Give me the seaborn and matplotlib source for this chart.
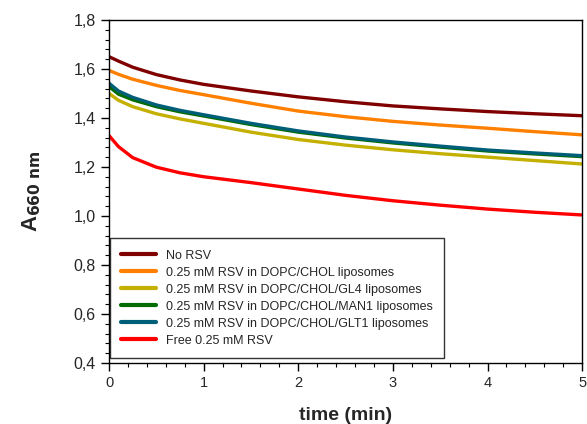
import pandas as pd
import matplotlib.pyplot as plt
import seaborn as sns
from matplotlib.ticker import MultipleLocator, FuncFormatter

times = [0, 0.1, 0.25, 0.5, 0.75, 1, 1.5, 2, 2.5, 3, 3.5, 4, 4.5, 5]

no_rsv = [1.650, 1.632, 1.607, 1.577, 1.555, 1.537, 1.510, 1.486, 1.466, 1.449, 1.437, 1.426, 1.417, 1.409]
chol = [1.594, 1.578, 1.558, 1.533, 1.512, 1.495, 1.460, 1.428, 1.405, 1.386, 1.371, 1.358, 1.344, 1.331]
gl4 = [1.500, 1.472, 1.446, 1.417, 1.396, 1.378, 1.342, 1.312, 1.289, 1.270, 1.254, 1.240, 1.226, 1.212]
man1 = [1.528, 1.497, 1.474, 1.446, 1.425, 1.408, 1.373, 1.342, 1.318, 1.298, 1.281, 1.265, 1.253, 1.242]
glt1 = [1.542, 1.510, 1.484, 1.453, 1.431, 1.413, 1.378, 1.347, 1.322, 1.302, 1.285, 1.269, 1.257, 1.246]
free_rsv = [1.328, 1.283, 1.238, 1.199, 1.176, 1.160, 1.136, 1.110, 1.084, 1.062, 1.044, 1.028, 1.015, 1.004]

labels = [
    "No RSV",
    "0.25 mM RSV in DOPC/CHOL liposomes",
    "0.25 mM RSV in DOPC/CHOL/GL4 liposomes",
    "0.25 mM RSV in DOPC/CHOL/MAN1 liposomes",
    "0.25 mM RSV in DOPC/CHOL/GLT1 liposomes",
    "Free 0.25 mM RSV",
]
colors = ["#800000", "#ff8000", "#c4b000", "#006c00", "#005f78", "#ff0000"]
series = [no_rsv, chol, gl4, man1, glt1, free_rsv]

rows = []
for lab, vals in zip(labels, series):
    for t, v in zip(times, vals):
        rows.append({"time": t, "A": v, "sample": lab})
df = pd.DataFrame(rows)

sns.set_style("ticks")
plt.rcParams['font.family'] = ['Liberation Sans', 'DejaVu Sans']

fig = plt.figure(figsize=(5.87, 4.24), dpi=100)
ax = fig.add_axes([0.1857, 0.144, 0.806, 0.809])

sns.lineplot(data=df, x="time", y="A", hue="sample", hue_order=labels,
             palette=colors, linewidth=2.4, ax=ax)

ax.set_xlim(0, 5)
ax.set_ylim(0.4, 1.8)
ax.xaxis.set_major_locator(MultipleLocator(1))
ax.xaxis.set_minor_locator(MultipleLocator(0.2))
ax.yaxis.set_major_locator(MultipleLocator(0.2))
ax.yaxis.set_minor_locator(MultipleLocator(0.04))
ax.yaxis.set_major_formatter(FuncFormatter(lambda v, p: f"{v:.1f}".replace(".", ",")))
ax.tick_params(which='major', direction='out', length=6, width=1, color='black')
ax.tick_params(axis='y', which='major', labelsize=11.5)
ax.tick_params(axis='x', which='major', labelsize=10.5)
ax.tick_params(which='minor', direction='out', length=3, width=0.8, color='black')
for s in ax.spines.values():
    s.set_visible(True)
    s.set_color('black')
    s.set_linewidth(1)

ax.set_xlabel("time (min)", fontsize=14, fontweight='bold', labelpad=12)
ax.set_ylabel(r"A$_{\mathbf{660\ nm}}$", fontsize=16, fontweight='bold', labelpad=22)

leg = ax.legend(loc='lower left', bbox_to_anchor=(0.002, 0.015), borderaxespad=0,
                fontsize=9, handlelength=2.8, labelspacing=0.4, fancybox=False,
                frameon=True, edgecolor='black', borderpad=0.9)
leg.get_frame().set_linewidth(1)
for line in leg.get_lines():
    line.set_linewidth(3)

plt.savefig("out.png", dpi=100)
